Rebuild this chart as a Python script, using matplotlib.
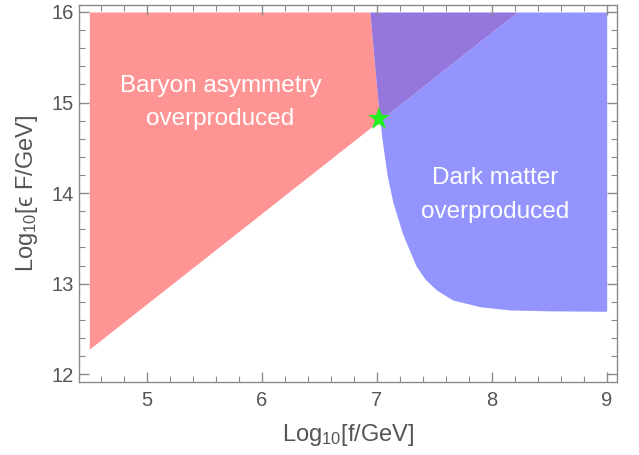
import numpy as np
import matplotlib
matplotlib.use("Agg")
import matplotlib.pyplot as plt
from matplotlib.ticker import MultipleLocator

# ---- data ----
# Baryon asymmetry boundary (straight line in log-log)
baryon_x = [4.5, 8.223]
baryon_y = [12.277, 16.0]
# Dark matter boundary curve
dm_x = [6.94, 6.975, 7.012, 7.045, 7.09, 7.14, 7.225, 7.34, 7.42, 7.52, 7.66, 7.90, 8.16, 8.5, 9.0]
dm_y = [16.0, 15.5, 15.0, 14.6, 14.2, 13.9, 13.55, 13.2, 13.05, 12.93, 12.82, 12.745, 12.71, 12.70, 12.695]
# benchmark point
star_x = [7.02]
star_y = [14.82]
x_range = [4.5, 9.0]
y_top = 16.0

red = "#FF9494"
blue = "#9494FF"
purple = "#9476DC"
textc = "#555555"
framec = "#8a8a8a"

plt.rcParams['font.family'] = ['Liberation Sans', 'DejaVu Sans']
plt.rcParams['mathtext.default'] = 'regular'

fig = plt.figure(figsize=(6.39, 4.55), dpi=100)
ax = fig.add_axes([0.1236, 0.161, 0.842, 0.828])

x = np.linspace(x_range[0], x_range[1], 4000)
L = np.interp(x, baryon_x, baryon_y)
L = np.where(x > baryon_x[1], np.inf, L)
G = np.where(x < dm_x[0], np.inf, np.interp(x, dm_x, dm_y))
top = np.full_like(x, y_top)

Lc = np.minimum(L, y_top)
Gc = np.minimum(G, y_top)

# red only
ax.fill_between(x, Lc, Gc, where=(Lc < Gc), color=red, lw=0, interpolate=True)
# blue only
ax.fill_between(x, Gc, Lc, where=(Gc < Lc), color=blue, lw=0, interpolate=True)
# overlap
mx = np.maximum(Lc, Gc)
ax.fill_between(x, mx, top, where=(mx < top), color=purple, lw=0, interpolate=True)

ax.plot(star_x, star_y, marker='*', color='#22EE22', markersize=17, markeredgewidth=0, zorder=5)

ax.text(5.64, 15.0, "Baryon asymmetry\noverproduced", color='white', fontsize=17.5,
        ha='center', va='center', linespacing=1.7)
ax.text(8.03, 13.98, "Dark matter\noverproduced", color='white', fontsize=17.5,
        ha='center', va='center', linespacing=1.7)

ax.set_xlim(4.41, 9.09)
ax.set_ylim(11.917, 16.077)
ax.xaxis.set_major_locator(MultipleLocator(1))
ax.xaxis.set_minor_locator(MultipleLocator(0.2))
ax.yaxis.set_major_locator(MultipleLocator(1))
ax.yaxis.set_minor_locator(MultipleLocator(0.2))
ax.tick_params(which='both', direction='in', top=True, right=True, color=framec,
               labelcolor=textc, labelsize=14.5)
ax.tick_params(axis='x', which='major', pad=7)
ax.tick_params(axis='y', which='major', pad=4)
ax.tick_params(which='major', length=7, width=1)
ax.tick_params(which='minor', length=4, width=0.8)
for s in ax.spines.values():
    s.set_color(framec)
    s.set_linewidth(1.0)

ax.set_xlabel("Log$_{10}$[f/GeV]", color=textc, fontsize=17, labelpad=8)
ax.set_ylabel("Log$_{10}$[\u03f5 F/GeV]", color=textc, fontsize=17, labelpad=8)

fig.savefig("out.png", dpi=100)
